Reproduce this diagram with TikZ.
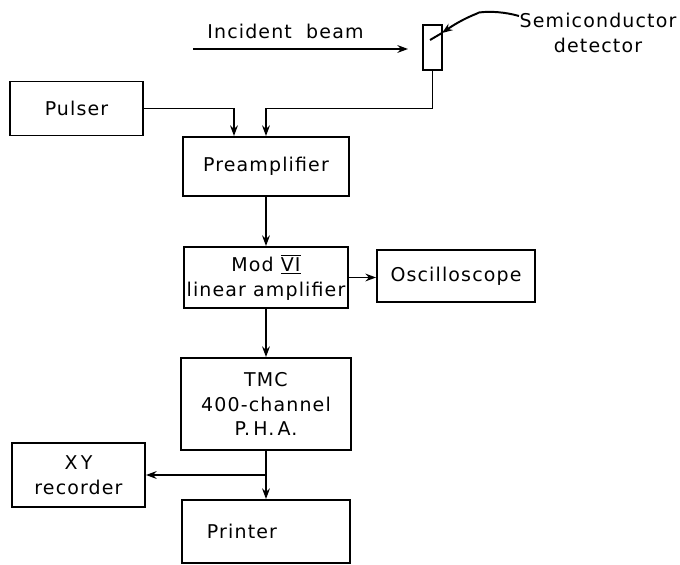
\documentclass[tikz,border=0pt]{standalone}
\usepackage{fontspec}
\setmainfont{DejaVu Sans}[LetterSpace=6]
\usetikzlibrary{arrows.meta}

\begin{document}
\begin{tikzpicture}[>={Stealth[length=7.5pt,width=5.5pt]}, x=0.025cm, y=-0.025cm, line width=1.4pt,
  font=\fontsize{13.5pt}{17.5pt}\selectfont,
  block/.style={draw, inner sep=2pt, align=center}]
  \useasboundingbox (0,0) rectangle (680,565);

  % detector and beam
  \node[draw, minimum width=0.475cm, minimum height=1.125cm] (det) at (432.5,47.5) {};
  \coordinate (beamstart) at (193,49);
  \coordinate (beamend) at (408,49);
  \draw[->] (beamstart) -- (beamend) node[pos=0.43, above=3pt] (beam) {Incident\ \ beam};
  \node[align=center] (semi) at (598,33) {Semiconductor\\detector};
  \coordinate (sctail) at (519,16);
  \coordinate (kink) at (477,13.5);
  \coordinate (headpt) at (442,33);
  \coordinate (dettip) at (430,40);
  \draw[->] (sctail) .. controls (505,12) and (490,11) .. (479,12.5) -- (kink)
    .. controls (463,19) and (452,26) .. (headpt);
  \draw (headpt) -- (dettip);

  % blocks
  \node[block, minimum width=3.325cm, minimum height=1.35cm] (pulser) at (76.5,108.5) {Pulser};
  \node[block, minimum width=4.15cm, minimum height=1.475cm] (pre) at (266,166.5) {Preamplifier};
  \node[block, minimum width=4.1cm, minimum height=1.525cm, inner xsep=0pt] (modvi) at (266,277.5)
    {Mod $\overline{\underline{\hbox{VI}}}$\\linear amplifier};
  \node[block, minimum width=3.95cm, minimum height=1.3cm] (osc) at (456,276) {Oscilloscope};
  \node[block, minimum width=4.225cm, minimum height=2.3cm] (tmc) at (266,404)
    {TMC\\400-channel\\P.\,H.\,A.};
  \node[block, minimum width=3.325cm, minimum height=1.6cm] (xy) at (78.5,475) {X\,Y\\recorder};
  \node[draw, text width=2.95cm, inner xsep=0.625cm, minimum height=1.575cm, align=left]
    (printer) at (266,531.5) {Printer};

  % connections
  \draw[->] (pulser.east) -| ([xshift=-0.8cm]pre.north);
  \draw[->] (det.south) |- (pulser.east -| pre.north) -- (pre.north);
  \draw[->] (pre.south) -- (modvi.north);
  \draw[->] (modvi.east) -- (modvi.east -| osc.west);
  \draw[->] (modvi.south) -- (tmc.north);
  \draw[->] (tmc.south) -- (printer.north);
  \draw[->] (tmc.south |- xy.east) -- (xy.east);
\end{tikzpicture}
\end{document}
